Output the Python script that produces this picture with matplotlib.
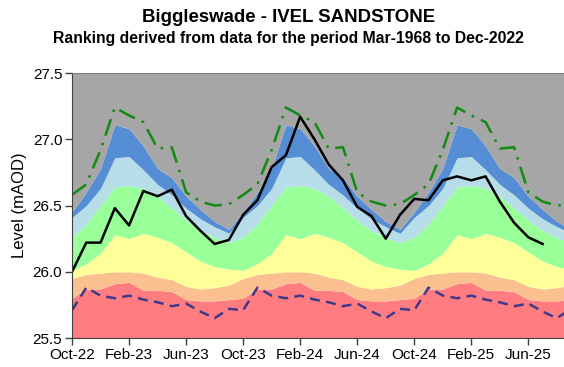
import numpy as np
import pandas as pd
import matplotlib
matplotlib.use('Agg')
import matplotlib.pyplot as plt

plt.rcParams['font.family'] = ['Liberation Sans', 'DejaVu Sans']

# Monthly ranking bands, water-year order (Oct .. Sep), levels in mAOD
band_red_top = [25.80, 25.87, 25.87, 25.91, 25.92, 25.86, 25.86, 25.85, 25.79, 25.78, 25.78, 25.79]
band_salmon_top = [25.95, 25.98, 25.99, 26.00, 26.00, 25.99, 25.96, 25.94, 25.89, 25.87, 25.88, 25.90]
band_yellow_top = [26.01, 26.06, 26.14, 26.28, 26.25, 26.29, 26.26, 26.22, 26.15, 26.08, 26.04, 26.02]
band_green_top = [26.26, 26.36, 26.50, 26.64, 26.65, 26.63, 26.57, 26.48, 26.39, 26.31, 26.26, 26.22]
band_lightblue_top = [26.41, 26.50, 26.63, 26.86, 26.87, 26.77, 26.66, 26.58, 26.48, 26.40, 26.34, 26.29]
band_blue_top = [26.45, 26.60, 26.78, 27.11, 27.08, 26.95, 26.78, 26.71, 26.57, 26.47, 26.38, 26.32]
record_max = [26.58, 26.66, 26.92, 27.24, 27.18, 27.13, 26.93, 26.94, 26.60, 26.53, 26.50, 26.51]
record_min = [25.71, 25.88, 25.82, 25.80, 25.82, 25.79, 25.77, 25.74, 25.76, 25.70, 25.65, 25.72]

# Observed monthly levels Oct-22 .. Jul-25
observed = [
    26.00, 26.22, 26.22, 26.48, 26.35, 26.61, 26.57, 26.62, 26.42, 26.31, 26.21, 26.24,
    26.43, 26.54, 26.79, 26.88, 27.17, 27.00, 26.81, 26.69, 26.49, 26.42, 26.25, 26.43,
    26.55, 26.54, 26.69, 26.72, 26.69, 26.72, 26.53, 26.37, 26.26, 26.21,
]

n_years = 3
months = pd.date_range('2022-10-01', periods=12 * n_years, freq='MS')
month_labels = [m.strftime('%b-%y') for m in months]
x = np.arange(len(months))


def per_month(values):
    return np.tile(values, n_years)


y_bottom, y_top = 25.5, 27.5
levels = [y_bottom] + [per_month(b) for b in (band_red_top, band_salmon_top, band_yellow_top,
                                               band_green_top, band_lightblue_top, band_blue_top)] + [y_top]
colours = ['#FF7C80', '#FAC090', '#FFFF99', '#99FF99', '#B7DEE8', '#558ED5', '#A6A6A6']

fig = plt.figure(figsize=(5.64, 3.67), dpi=100)
ax = fig.add_axes([0.1277, 0.079, 0.8723, 0.722])

for lo, hi, c in zip(levels[:-1], levels[1:], colours):
    ax.fill_between(x, lo, hi, color=c, linewidth=0)

ax.plot(x, per_month(record_max), color='#138A13', linewidth=1.8, linestyle=(0, (7, 3, 1, 3)))
ax.plot(x, per_month(record_min), color='#3D3A8C', linewidth=1.8, linestyle=(0, (4, 2.5)))
ax.plot(x[:len(observed)], observed, color='black', linewidth=1.8)

ax.set_xlim(0, 34.5)
ax.set_ylim(y_bottom, y_top)
ax.set_yticks([25.5, 26.0, 26.5, 27.0, 27.5])
ax.set_yticklabels(['25.5', '26.0', '26.5', '27.0', '27.5'])
ax.set_xticks(x[::4][:9])
ax.set_xticklabels(month_labels[::4][:9])
ax.tick_params(axis='both', labelsize=11, length=5, width=1, color='#404040', pad=2)
ax.set_ylabel('Level (mAOD)', fontsize=12, labelpad=4)

ax.spines['right'].set_visible(False)
for side in ('left', 'bottom'):
    ax.spines[side].set_color('#404040')
ax.spines['top'].set_color('#808080')

fig.text(0.512, 0.952, 'Biggleswade - IVEL SANDSTONE', ha='center', va='center',
         fontsize=13.4, fontweight='bold')
fig.text(0.512, 0.895, 'Ranking derived from data for the period Mar-1968 to Dec-2022',
         ha='center', va='center', fontsize=11.3, fontweight='bold')

fig.savefig('out.png', dpi=100)
